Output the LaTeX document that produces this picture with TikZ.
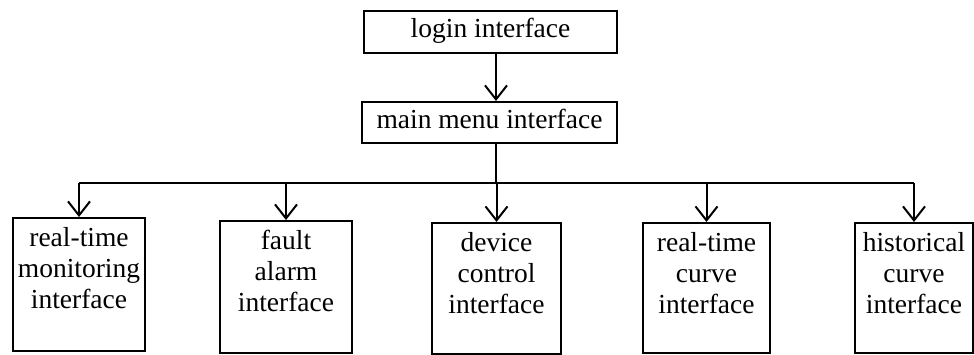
\documentclass[tikz,border=0pt]{standalone}
\usepackage{fontspec}
\setmainfont{Liberation Serif}
\usetikzlibrary{arrows.meta}

% box with top-aligned, centred text: width, height, first-baseline offset, text
\newcommand{\boxtext}[4]{\parbox[t][#2][t]{#1}{\centering\rule{0pt}{#3}#4}}

\begin{document}
\begin{tikzpicture}[x=1pt,y=-1pt,
  every node/.style={font=\fontsize{27.5}{31}\selectfont},
  frame/.style={draw,line width=2pt,inner sep=0pt,anchor=north west},
  link/.style={line width=2pt},
  arr/.style={link,-{Straight Barb[length=14pt,width=22pt,line width=2pt]}}]
\useasboundingbox (0,0) rectangle (974,354);

% top level
\node[frame] (login) at (363,10) {\boxtext{253pt}{42pt}{26pt}{login interface}};
\node[frame] (menu)  at (361,101) {\boxtext{255pt}{41pt}{26pt}{main menu interface}};

% sub-interfaces
\node[frame] (rt)   at (12,217)  {\boxtext{132pt}{133pt}{28pt}{real-time\\monitoring\\interface}};
\node[frame] (fa)   at (219,220) {\boxtext{132pt}{132pt}{28pt}{fault\\alarm\\interface}};
\node[frame] (dc)   at (431,222) {\boxtext{129pt}{131pt}{28pt}{device\\control\\interface}};
\node[frame] (rc)   at (642,222) {\boxtext{127pt}{130pt}{28pt}{real-time\\curve\\interface}};
\node[frame] (hc)   at (854,222) {\boxtext{118pt}{130pt}{28pt}{historical\\curve\\interface}};

% connectors
\coordinate (bus) at (496,183);
\draw[arr] (login.south -| bus) -- (menu.north -| bus);
\draw[link] (menu.south -| bus) -- (bus);
\draw[link] (rt.north |- bus) -- (hc.north |- bus);
\foreach \b in {rt,fa,dc,rc,hc}
  \draw[arr] (\b.north |- bus) -- (\b.north);
\end{tikzpicture}
\end{document}
